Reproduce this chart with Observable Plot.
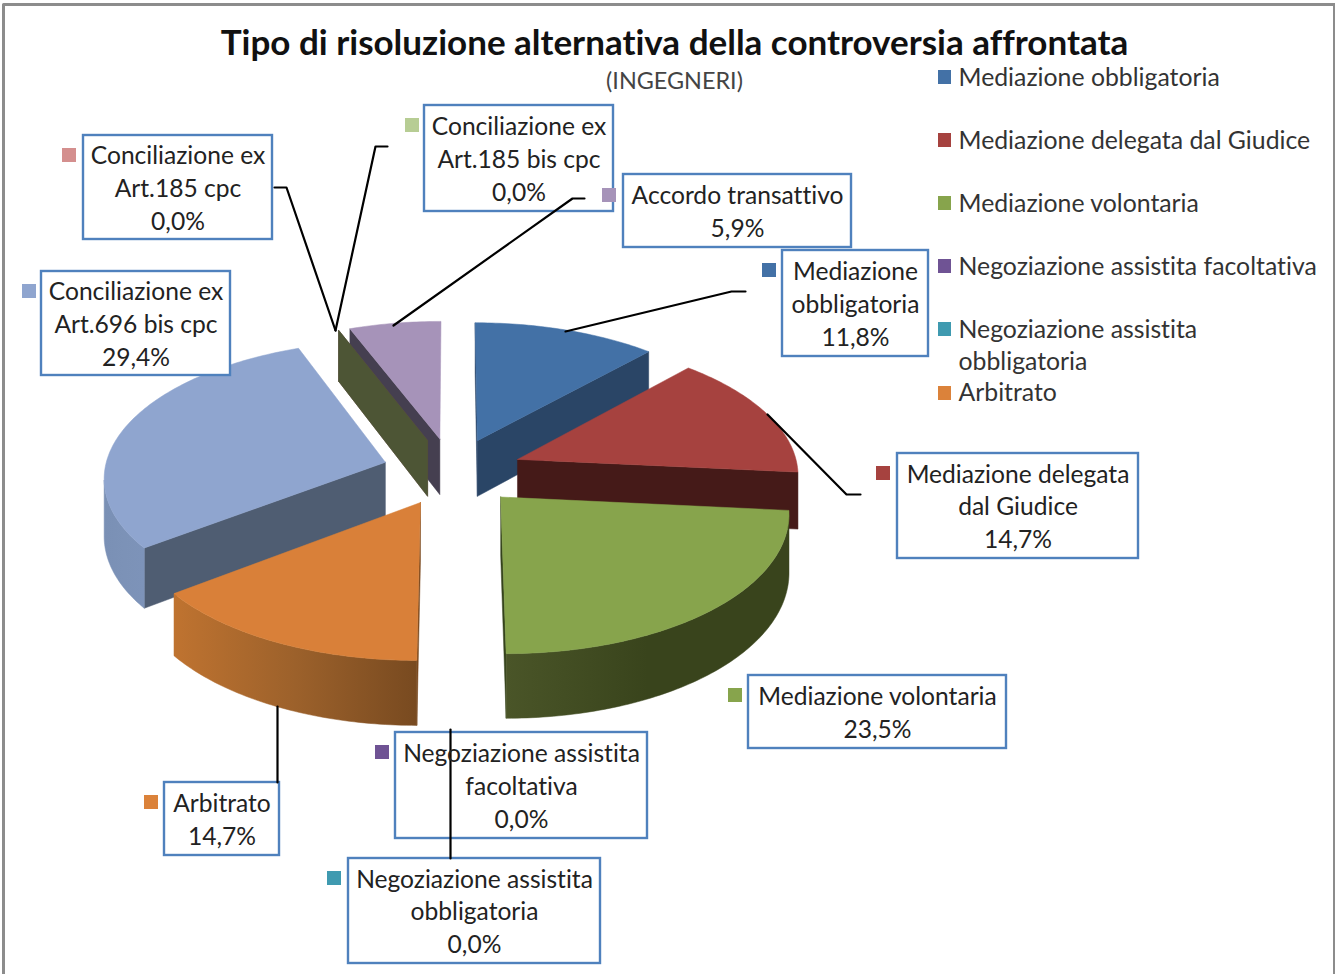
<!DOCTYPE html>
<html lang="it">
<head>
<meta charset="utf-8">
<script src="https://cdn.jsdelivr.net/npm/d3@7"></script>
<script src="https://cdn.jsdelivr.net/npm/@observablehq/plot@0.6"></script>
<style>html,body{margin:0;padding:0;background:#fff}svg{display:block}svg text{font-variant-ligatures:none}</style>
</head>
<body>
<div id="chart"></div>
<script>
// --- data ---
const categories = ["Mediazione obbligatoria","Mediazione delegata dal Giudice","Mediazione volontaria","Negoziazione assistita facoltativa","Negoziazione assistita obbligatoria","Arbitrato","Conciliazione ex Art.696 bis cpc","Conciliazione ex Art.185 cpc","Conciliazione ex Art.185 bis cpc","Accordo transattivo"];
const values = [11.8,14.7,23.5,0,0,14.7,29.4,0,0,5.9];
const labelTexts = ["Mediazione\nobbligatoria","Mediazione delegata\ndal Giudice","Mediazione volontaria","Negoziazione assistita\nfacoltativa","Negoziazione assistita\nobbligatoria","Arbitrato","Conciliazione ex\nArt.696 bis cpc","Conciliazione ex\nArt.185 cpc","Conciliazione ex\nArt.185 bis cpc","Accordo transattivo"];
const legendTexts = ["Mediazione obbligatoria","Mediazione delegata dal Giudice","Mediazione volontaria","Negoziazione assistita facoltativa","Negoziazione assistita\nobbligatoria","Arbitrato"];
const title = "Tipo di risoluzione alternativa della controversia affrontata";
const subtitle = "(INGEGNERI)";

// --- styles ---
const topColors = ["#4371a6","#a6423f","#87a44c","#6f5394","#3f9ab0","#d98039","#8fa5cf","#d48f8e","#b7cd94","#a693b9"];
const keyColors = ["#4371a6","#a6423f","#87a44c","#6f5394","#3f9ab0","#db823a","#8fa5cf","#d48f8e","#b7cd94","#a693b9"];
const wallColors = ["#2a4566","#451a18","#35431c","#40324f","#245d6c","#7a491f","#4f5d72","#6b4a49","#4d5535","#453f50"];
const outerStops = [["#2a4566","#2a4566","#2a4566"],["#6e2a27","#6e2a27","#6a2523"],["#4a5528","#39441c","#39441c"],["#40324f","#40324f","#40324f"],["#245d6c","#245d6c","#245d6c"],["#bf7330","#9c612b","#784a20"],["#7a90b5","#7c92b7","#7d93b9"],["#6b4a49","#6b4a49","#6b4a49"],["#4d5535","#4d5535","#4d5535"],["#453f50","#453f50","#453f50"]];

// --- layout ---
const W = 1335, H = 974, FONT = "Lato";
const cx = 452, cy = 471, Rx = 281, Ry = 135.5, persp = 0.10, depth = 57, explode = 0.25;
const boxes = [[782,250,928,356],[897,453,1138,558],[748,675,1006,748],[395,732,647,838],[348,858,600,963],[164,782,279,855],[41,271,230,375],[83,135,272,239],[424,105,613,211],[623,174,851,247]];
const keyPos = [[762,263],[876,466],[728,688],[375,745],[327,871],[144,795],[22,284],[62,148],[405,118],[602,188]];
const leaders = [
  [[565,331],[731,291],[745,291]],
  [[767,414],[846,494],[860,494]],
  [[277,706],[277,782]],
  [[450,729],[450,858]],
  [[335,330],[286,187],[274,187]],
  [[335,330],[375,146],[387,146]],
  [[393,325],[572,198],[584,198]]
];
const legendY = [75,138,201,264,343,390];
const legendKeyY = [70,133,196,259,322,386];

// --- geometry: slices from the values ---
function project(X, Y, z) {
  const s = 1 / (1 + persp * Y);
  return [cx + Rx * X * s, cy - Ry * Y * s + z * depth * s];
}
const area = p => d3.polygonArea(p);
const minWall = 60; // edge-on walls have almost no area and are not drawn
const pie = d3.pie().sort(null).startAngle(0).endAngle(2 * Math.PI)(values);
const order = pie.map((d, i) => ({d, i, m: (d.startAngle + d.endAngle) / 2}))
  .sort((a, b) => Math.cos(b.m) - Math.cos(a.m));
const polys = [];
let pid = 0;
function addPoly(points, color) {
  const id = pid++;
  [...points, points[0]].forEach(([x, y]) => polys.push({id, x, y, color}));
}
for (const {d, i, m} of order) {
  const ox = explode * Math.sin(m), oy = explode * Math.cos(m);
  const rim = (t, z) => project(ox + Math.sin(t), oy + Math.cos(t), z);
  const apex = z => project(ox, oy, z);
  const a0 = d.startAngle, a1 = d.endAngle;
  const wallStart = [apex(0), rim(a0, 0), rim(a0, 1), apex(1)];
  const wallEnd = [apex(0), rim(a1, 0), rim(a1, 1), apex(1)];
  if (area(wallStart) > minWall) addPoly(wallStart, wallColors[i]);
  if (area(wallEnd) < -minWall) addPoly(wallEnd, wallColors[i]);
  if (a1 > a0) {
    const n = Math.max(2, Math.ceil((a1 - a0) * 60));
    const ts = d3.range(n + 1).map(k => a0 + (a1 - a0) * k / n);
    // curved outer side: only the stretch that faces the viewer
    const facing = ts.filter((t, k) => k < n &&
      area([rim(t, 0), rim(ts[k + 1], 0), rim(ts[k + 1], 1), rim(t, 1)]) > 0);
    if (facing.length) {
      const tf = [...facing, facing[facing.length - 1] + (a1 - a0) / n];
      addPoly([...tf.map(t => rim(t, 0)), ...tf.slice().reverse().map(t => rim(t, 1))], `url(#outer${i})`);
    }
    addPoly([apex(0), ...ts.map(t => rim(t, 0))], topColors[i]);
  }
}

// --- tables for marks ---
const labelRows = categories.map((c, i) => ({
  x1: boxes[i][0], y1: boxes[i][1], x2: boxes[i][2], y2: boxes[i][3],
  tx: (boxes[i][0] + boxes[i][2]) / 2, ty: (boxes[i][1] + boxes[i][3]) / 2 - 1,
  text: labelTexts[i] + "\n" + values[i].toFixed(1).replace(".", ",") + "%",
  kx: keyPos[i][0], ky: keyPos[i][1], color: keyColors[i]
}));
const legendRows = legendTexts.map((t, i) => ({t, y: legendY[i], ky: legendKeyY[i], color: keyColors[i]}));
const leaderRows = leaders.flatMap((l, id) => l.map(([x, y]) => ({id, x, y})));
const frame = [[3,974],[3,4],[1334,4],[1334,974]].map(([x, y]) => ({x, y}));

// horizontal gradients for the curved sides (bounding-box units)
const gradients = () => {
  const defs = d3.create("svg:defs");
  outerStops.forEach((stops, i) => {
    const g = defs.append("linearGradient").attr("id", `outer${i}`);
    stops.forEach((c, k) => g.append("stop").attr("offset", k / (stops.length - 1)).attr("stop-color", c));
  });
  return defs.node();
};

const chart = Plot.plot({
  width: W, height: H, margin: 0,
  x: {domain: [0, W], range: [0, W], axis: null},
  y: {domain: [0, H], range: [0, H], axis: null},
  color: {type: "identity"},
  style: {fontFamily: FONT, background: "#fff"},
  marks: [
    gradients,
    Plot.line(frame, {x: "x", y: "y", stroke: "#8c8c8c", strokeWidth: 3, curve: "linear"}),
    Plot.line(polys, {x: "x", y: "y", z: "id", fill: "color", stroke: "color", strokeWidth: 0.5, curve: "linear"}),
    Plot.rect(labelRows, {x1: "x1", x2: "x2", y1: "y1", y2: "y2", fill: "#fff", stroke: "#4f81bd", strokeWidth: 2.4}),
    Plot.rect(labelRows, {x1: "kx", x2: d => d.kx + 14, y1: "ky", y2: d => d.ky + 14, fill: "color"}),
    Plot.line(leaderRows, {x: "x", y: "y", z: "id", stroke: "#000", strokeWidth: 2.2, curve: "linear"}),
    Plot.text(labelRows, {x: "tx", y: "ty", text: "text", fontSize: 24.6, lineHeight: 1.33, fill: "#222", fontFamily: FONT}),
    Plot.rect(legendRows, {x1: () => 938, x2: () => 951, y1: "ky", y2: d => d.ky + 14, fill: "color"}),
    Plot.text(legendRows, {x: () => 958, y: "y", text: "t", textAnchor: "start", fontSize: 24.8, lineHeight: 1.28, fill: "#333", fontFamily: FONT}),
    Plot.text([title], {x: () => 674, y: () => 43, text: d => d, fontSize: 35, fontWeight: "bold", fill: "#111", fontFamily: FONT}),
    Plot.text([subtitle], {x: () => 674, y: () => 81, text: d => d, fontSize: 23.4, fill: "#444", fontFamily: FONT})
  ]
});
document.getElementById("chart").appendChild(chart);
</script>
</body>
</html>
